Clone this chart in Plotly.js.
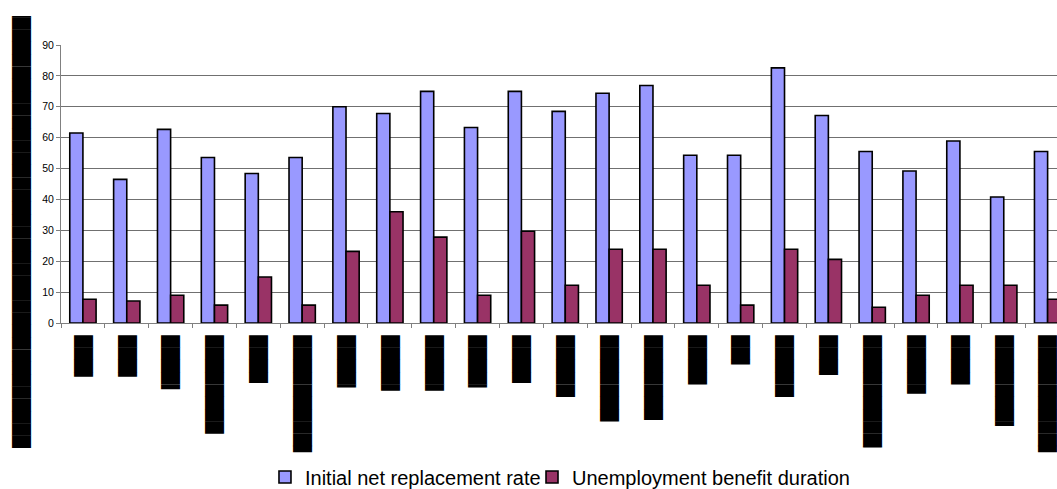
<!DOCTYPE html>
<html>
<head>
<meta charset="utf-8">
<script src="https://cdn.plot.ly/plotly-3.0.1.min.js"></script>
<style>
  html, body { margin: 0; padding: 0; background: #fff; overflow: hidden; }
  #chart { width: 1057px; height: 489px; }
</style>
</head>
<body>
<div id="chart"></div>
<script>
// Country names are blacked out; each label is a run of block glyphs.
const countryLabels = [
  '███▍', '███▍', '████▍', '████████', '███▉', '█████████▌',
  '████▎', '████▌', '████▌', '████▎', '███▉', '█████',
  '███████', '██████▉', '████', '██▍', '█████', '███▎',
  '█████████▏', '████▊', '████', '███████▍', '█████████▌'
];

// Initial net replacement rate (%)
const replacementRate = [
  61.5, 46.5, 62.7, 53.6, 48.4, 53.6, 70.0, 67.8, 75.0, 63.3, 75.0, 68.5,
  74.4, 76.9, 54.3, 54.3, 82.6, 67.2, 55.5, 49.2, 58.9, 40.8, 55.5
];

// Unemployment benefit duration
const benefitDuration = [
  7.7, 7.1, 9.0, 5.8, 14.9, 5.8, 23.2, 36.0, 27.8, 9.0, 29.7, 12.2,
  23.9, 23.9, 12.2, 5.8, 23.9, 20.6, 5.1, 9.0, 12.2, 12.2, 7.7
];

// Blacked-out vertical axis title
const yTitleText = '███████████████████████████████████▏';

const seriesNames = ['Initial net replacement rate', 'Unemployment benefit duration'];

const idx = countryLabels.map((_, i) => i);

const barLine = { color: '#000000', width: 1.6 };

const traces = [
  {
    type: 'bar',
    name: seriesNames[0],
    x: idx,
    y: replacementRate,
    legend: 'legend',
    marker: { color: '#9999FF', line: barLine }
  },
  {
    type: 'bar',
    name: seriesNames[1],
    x: idx,
    y: benefitDuration,
    legend: 'legend2',
    marker: { color: '#993366', line: barLine }
  }
];

const legendFont = { size: 20, family: 'Liberation Sans, Arial, sans-serif', color: '#000000' };

const layout = {
  width: 1057,
  height: 489,
  margin: { l: 61, r: 0, t: 45, b: 166, autoexpand: false },
  paper_bgcolor: '#ffffff',
  plot_bgcolor: '#ffffff',
  font: { family: 'Liberation Sans, Arial, sans-serif', color: '#000000' },
  barmode: 'group',
  bargap: 0.4,
  bargroupgap: 0,
  showlegend: true,
  legend: {
    orientation: 'h',
    x: 0.2048,
    xanchor: 'left',
    y: -0.554,
    yanchor: 'middle',
    font: legendFont,
    bgcolor: 'rgba(0,0,0,0)'
  },
  legend2: {
    orientation: 'h',
    x: 0.4729,
    xanchor: 'left',
    y: -0.554,
    yanchor: 'middle',
    font: legendFont,
    bgcolor: 'rgba(0,0,0,0)'
  },
  xaxis: {
    type: 'category',
    range: [-0.5, 22.214],
    tickmode: 'array',
    tickvals: idx,
    ticktext: countryLabels,
    tickangle: 90,
    tickfont: { family: 'DejaVu Sans', size: 16, color: '#000000' },
    ticklabelstandoff: 8,
    ticks: 'outside',
    tickson: 'boundaries',
    ticklen: 4,
    tickcolor: '#808080',
    showline: true,
    linecolor: '#808080',
    linewidth: 1,
    showgrid: false,
    zeroline: false,
    fixedrange: true
  },
  yaxis: {
    range: [0, 90],
    tickmode: 'linear',
    tick0: 0,
    dtick: 10,
    ticks: 'outside',
    ticklen: 4,
    tickcolor: '#808080',
    tickfont: { size: 10.5, family: 'Liberation Sans, Arial, sans-serif', color: '#000000' },
    showline: true,
    linecolor: '#808080',
    linewidth: 1,
    showgrid: true,
    gridcolor: '#707070',
    gridwidth: 1,
    zeroline: false,
    fixedrange: true
  },
  annotations: [
    {
      text: yTitleText,
      xref: 'paper',
      yref: 'paper',
      x: -0.0402,
      y: 0.345,
      xanchor: 'center',
      yanchor: 'middle',
      textangle: -90,
      showarrow: false,
      borderpad: 0,
      font: { family: 'DejaVu Sans', size: 16, color: '#000000' }
    }
  ]
};

Plotly.newPlot('chart', traces, layout, { staticPlot: true, displayModeBar: false });
</script>
</body>
</html>
